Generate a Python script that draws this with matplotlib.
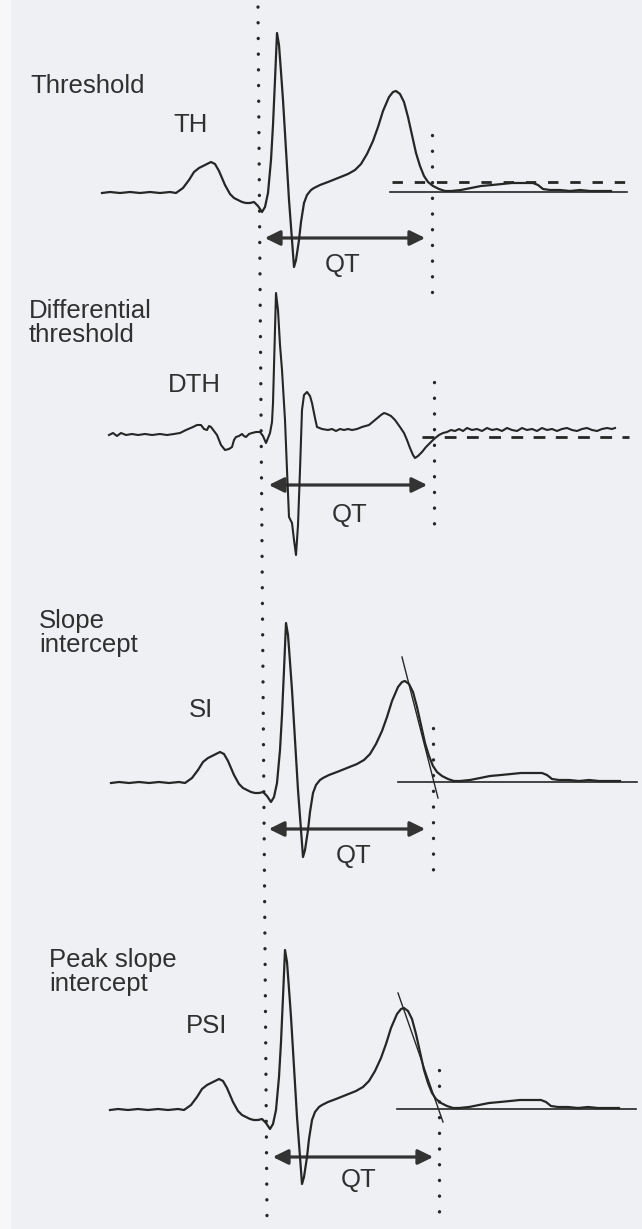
"""
QT interval measurement methods: TH, DTH, SI, PSI
"""

import matplotlib.pyplot as plt
from matplotlib.patches import FancyArrowPatch

plt.rcParams['font.family'] = ['Liberation Sans', 'DejaVu Sans']
plt.rcParams['lines.scale_dashes'] = False

# ECG complex used in the TH, SI and PSI panels (x in px, amplitude above baseline in px)
ecg_t = [102, 110, 120, 130, 140, 150, 160, 170, 176, 183, 189, 194, 199, 205, 211, 215,
         219, 225, 230, 234, 238, 242, 246, 250, 254, 258, 262, 265, 268, 271, 273, 275,
         277, 279, 281, 283, 286, 289, 292, 294, 296, 299, 301, 304, 307, 311, 314, 320,
         328, 338, 348, 355, 361, 367, 373, 378, 383, 389, 393, 396, 400, 404, 408, 412,
         416, 420, 424, 428, 433, 439, 445, 451, 461, 471, 481, 492, 502, 512, 522, 533,
         538, 543, 550, 560, 570, 580, 590, 600, 611]
ecg_v = [-1, 0, -1, 0, -1, 0, -1, 0, -1, 4, 12, 20, 24, 27, 30, 28,
         21, 7, -2, -6, -8, -10, -11, -11, -10, -14, -20, -15, -1, 32, 67, 112,
         159, 147, 120, 92, 42, -8, -48, -75, -68, -48, -30, -11, -3, 2, 4, 7,
         10, 14, 18, 22, 28, 38, 51, 65, 81, 95, 100, 101, 98, 90, 75, 57,
         39, 26, 16, 10, 6, 3, 1, 1, 2, 4, 6, 7, 8, 9, 9, 9,
         7, 3, 2, 2, 1, 2, 1, 1, 1]

# differentiated trace for the DTH panel
dth_t = [109, 113, 117, 121, 126, 132, 138, 145, 152, 160, 167, 174, 180, 186, 193, 197,
         201, 204, 207, 209, 211, 214, 217, 221, 225, 229, 232, 234, 236, 239, 242, 244,
         246, 249, 252, 256, 260, 263, 266, 268, 270, 272, 273, 274, 275, 276, 278, 280,
         282, 285, 287, 289, 292, 294, 296, 298, 300, 302, 304, 307, 310, 312, 315, 317,
         322, 328, 332, 336, 340, 344, 348, 352, 357, 362, 369, 375, 381, 384, 387, 391,
         395, 400, 404, 407, 410, 413, 415, 418, 422, 426, 430, 434, 439, 443, 447, 451,
         455, 459, 463, 467, 472, 477, 482, 487, 492, 497, 502, 507, 512, 517, 522, 527,
         532, 537, 542, 547, 552, 557, 562, 567, 572, 577, 582, 587, 592, 597, 602, 607,
         612, 615]
dth_v = [-3, -1, -4, -1, -3, -2, -3, -2, -3, -2, -3, -2, -1, 2, 5, 7,
         7, 3, 2, 6, 5, 1, -3, -13, -18, -17, -15, -8, -5, -4, -2, -4,
         -5, -2, -1, 0, 0, -4, -11, -6, -1, 10, 29, 67, 107, 139, 122, 87,
         62, 12, -38, -85, -91, -108, -123, -93, -38, 22, 37, 40, 36, 29, 14, 5,
         3, 2, 3, 1, 3, 2, 3, 2, 3, 5, 7, 12, 17, 19, 18, 16,
         12, 5, -1, -8, -16, -23, -26, -24, -20, -15, -11, -7, -3, -1, 0, 2,
         1, 3, 1, 4, 2, 3, 1, 4, 2, 3, 1, 4, 2, 1, 4, 2,
         3, 1, 4, 2, 3, 1, 3, 4, 2, 1, 3, 4, 2, 1, 3, 4,
         3, 4]

titles = ['Threshold', 'Differential\nthreshold', 'Slope\nintercept', 'Peak slope\nintercept']
methods = ['TH', 'DTH', 'SI', 'PSI']
qt_on = [262, 266, 266, 270]
qt_off = [428, 430, 428, 436]

# threshold levels (amplitude above baseline)
th_level = 10
dth_level = -5
# tangents for SI / PSI: (x0, v0), (x1, v1) in unshifted trace coords
si_tangent = [(393, 125), (429, -16)]
psi_tangent = [(390, 116), (435, -13)]

# page layout
W, H = 642, 1229
panels = [
    dict(base=192, dx=0, title=(30, 93), abbr=(173, 132), qt=(325, 272), arrow_y=238,
         end_x=432, end_y=(135, 292)),
    dict(base=432, dx=0, title=(29, 318), abbr=(168, 392), qt=(332, 522), arrow_y=485,
         end_x=434, end_y=(382, 524)),
    dict(base=782, dx=9, title=(39, 628), abbr=(189, 717), qt=(336, 863), arrow_y=829,
         end_x=433, end_y=(728, 872)),
    dict(base=1109, dx=8, title=(49, 967), abbr=(186, 1033), qt=(341, 1187), arrow_y=1157,
         end_x=439, end_y=(1070, 1214)),
]

ink = '#262626'
txt = '#303030'
fs = 18.5

fig = plt.figure(figsize=(W / 100, H / 100), dpi=100, facecolor='#eff0f4')
ax = fig.add_axes([0, 0, 1, 1])
ax.set_xlim(0, W)
ax.set_ylim(H, 0)
ax.axis('off')
ax.axvspan(0, 11, color='#f7f7f9', lw=0)

dot_style = dict(color=ink, lw=2.4, linestyle=(0, (0.1, 11.2)), dash_capstyle='round')

# long onset marker running through all panels
ax.plot([258, 267], [7, 1218], **dot_style)

for i, p in enumerate(panels):
    b, dx = p['base'], p['dx']
    if methods[i] == 'DTH':
        ax.plot([t + dx for t in dth_t], [b - v for v in dth_v], color=ink, lw=1.5)
    else:
        ax.plot([t + dx for t in ecg_t], [b - v for v in ecg_v], color=ink, lw=1.6)

    # method-specific construction lines
    if methods[i] == 'TH':
        ax.plot([390, 627], [b, b], color=ink, lw=1.2)
        ax.plot([392, 627], [b - th_level, b - th_level], color=ink, lw=2.0,
                linestyle=(0, (7.5, 8.5)))
    elif methods[i] == 'DTH':
        ax.plot([422, 629], [b - dth_level, b - dth_level], color=ink, lw=2.0,
                linestyle=(0, (8.5, 7.5)))
    else:
        tan = si_tangent if methods[i] == 'SI' else psi_tangent
        ax.plot([390 + dx - 1, 628 + dx], [b, b], color=ink, lw=1.2)
        ax.plot([tan[0][0] + dx, tan[1][0] + dx], [b - tan[0][1], b - tan[1][1]],
                color=ink, lw=1.0)

    # T end marker
    ax.plot([p['end_x'], p['end_x']], list(p['end_y']), **dot_style)

    # QT arrow
    arr = FancyArrowPatch((qt_on[i], p['arrow_y']), (qt_off[i], p['arrow_y']),
                          arrowstyle='<|-|>,head_length=0.65,head_width=0.32',
                          mutation_scale=14, lw=2.3, color='#333333')
    ax.add_patch(arr)

    # text
    lines = titles[i].split('\n')
    for k, line in enumerate(lines):
        ax.text(p['title'][0], p['title'][1] + k * 24, line, fontsize=fs, color=txt,
                va='baseline', ha='left')
    ax.text(p['abbr'][0], p['abbr'][1], methods[i], fontsize=fs, color=txt,
            va='baseline', ha='left')
    ax.text(p['qt'][0], p['qt'][1], 'QT', fontsize=fs, color=txt, va='baseline', ha='left')

fig.savefig('out.png', dpi=100, facecolor=fig.get_facecolor())
